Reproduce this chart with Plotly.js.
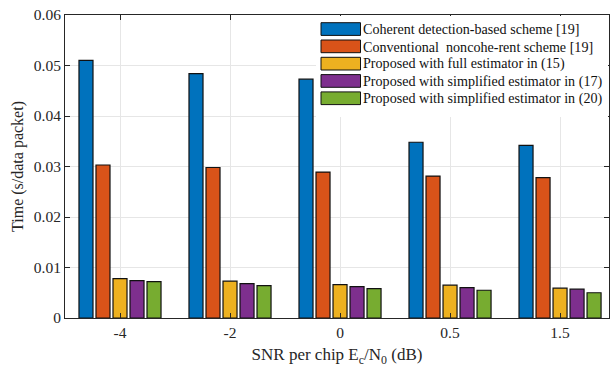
<!DOCTYPE html>
<html>
<head>
<meta charset="utf-8">
<script src="https://cdn.plot.ly/plotly-3.0.1.min.js"></script>
<style>html,body{margin:0;padding:0;background:#fff;}#chart{width:611px;height:368px;}</style>
</head>
<body>
<div id="chart"></div>
<script>
const categories = ["-4", "-2", "0", "0.5", "1.5"];
const seriesNames = [
  "Coherent detection-based scheme [19]",
  "Conventional\u00A0 noncohe-rent scheme [19]",
  "Proposed with full estimator in (15)",
  "Proposed with simplified estimator in (17)",
  "Proposed with simplified estimator in (20)"
];
const coherent     = [0.0510, 0.0484, 0.0473, 0.0348, 0.0342];
const conventional = [0.0303, 0.0298, 0.0289, 0.0281, 0.0278];
const fullEst      = [0.0078, 0.0073, 0.0066, 0.0065, 0.0059];
const simp17       = [0.0074, 0.0068, 0.0062, 0.0060, 0.0057];
const simp20       = [0.0072, 0.0064, 0.0058, 0.0055, 0.0050];
const yTickVals = [0, 0.01, 0.02, 0.03, 0.04, 0.05, 0.06];
const yTickText = ["0", "0.01", "0.02", "0.03", "0.04", "0.05", "0.06"];

const colors = ["#0072BD", "#D95319", "#EDB120", "#7E2F8E", "#77AC30"];
const allSeries = [coherent, conventional, fullEst, simp17, simp20];

const traces = allSeries.map((vals, i) => ({
  type: "bar",
  x: categories,
  y: vals,
  name: seriesNames[i],
  marker: {color: colors[i], line: {color: "#111", width: 1.2}},
  showlegend: false,
  hoverinfo: "skip"
}));

// plot area in pixels
const L = 65, R = 609, T = 15, B = 318;
const px = x => (x - L) / (R - L);
const py = y => (B - y) / (B - T);

const shapes = [{
  type: "rect", xref: "paper", yref: "paper",
  x0: px(316), x1: px(608), y0: py(117), y1: py(16),
  fillcolor: "#ffffff", line: {width: 0}, layer: "above"
}];
const annotations = [];
seriesNames.forEach((name, i) => {
  const top = 22.7 + i * 17.3;
  shapes.push({
    type: "rect", xref: "paper", yref: "paper",
    x0: px(321), x1: px(360.5), y0: py(top + 12.7), y1: py(top),
    fillcolor: colors[i], line: {color: "#111", width: 1}, layer: "above"
  });
  annotations.push({
    xref: "paper", yref: "paper", x: px(361), y: py(top + 6.6),
    xanchor: "left", yanchor: "middle", showarrow: false,
    text: name, font: {family: "Liberation Serif", size: 14.1, color: "#111"}
  });
});

const layout = {
  width: 611, height: 368,
  margin: {l: L, r: 611 - R, t: T, b: 368 - B},
  paper_bgcolor: "#fff", plot_bgcolor: "#fff",
  barmode: "group", bargap: 0.227, bargroupgap: 0.176,
  font: {family: "Liberation Serif", size: 15, color: "#262626"},
  xaxis: {
    type: "category", range: [-0.5, 4.445],
    showgrid: true, gridcolor: "#e6e6e6", gridwidth: 1,
    showline: true, linecolor: "#262626", linewidth: 1, mirror: "ticks",
    ticks: "inside", ticklen: 5, tickcolor: "#262626",
    tickfont: {size: 15.5},
    title: {text: "SNR per chip E<sub>c</sub>/N<sub>0</sub> (dB)", font: {size: 17}, standoff: 8},
    zeroline: false
  },
  yaxis: {
    range: [0, 0.06], tickvals: yTickVals, ticktext: yTickText,
    showgrid: true, gridcolor: "#e6e6e6", gridwidth: 1,
    showline: true, linecolor: "#262626", linewidth: 1, mirror: "ticks",
    ticks: "inside", ticklen: 5, tickcolor: "#262626",
    tickfont: {size: 15.5},
    title: {text: "Time (s/data packet)", font: {size: 16}, standoff: 6},
    zeroline: false
  },
  shapes: shapes,
  annotations: annotations
};

Plotly.newPlot("chart", traces, layout, {displayModeBar: false, staticPlot: true});
</script>
</body>
</html>
